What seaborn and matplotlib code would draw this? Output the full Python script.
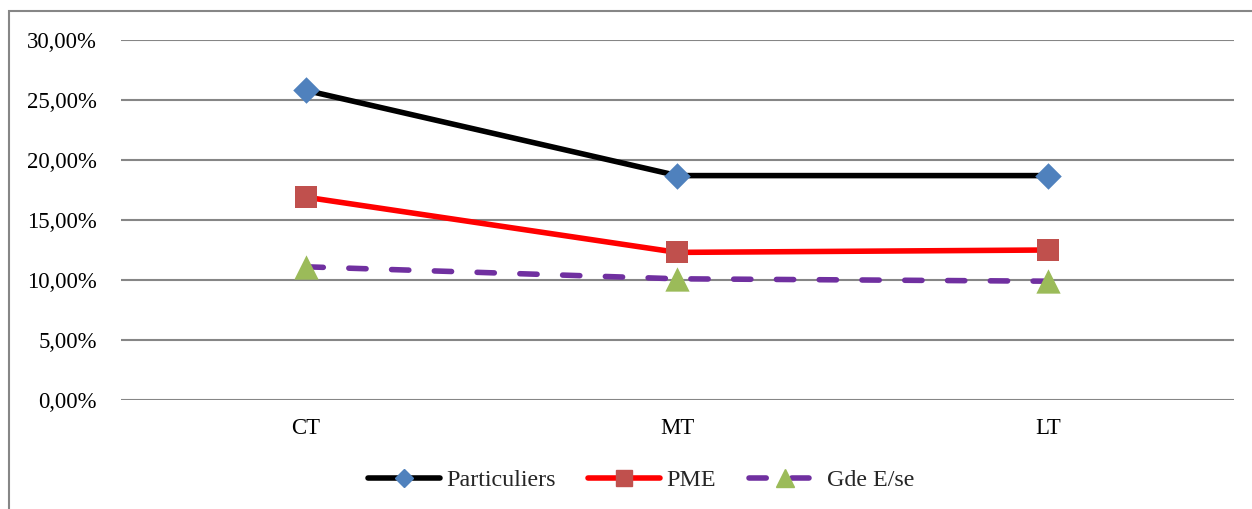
import numpy as np
import pandas as pd
import matplotlib
matplotlib.use('Agg')
import matplotlib.pyplot as plt
from matplotlib.ticker import FuncFormatter
from matplotlib.lines import Line2D
import seaborn as sns

# Données
horizons = ['CT', 'MT', 'LT']
particuliers = [0.258, 0.187, 0.187]
pme = [0.169, 0.123, 0.125]
gde_ese = [0.111, 0.101, 0.099]

series_names = ['Particuliers', 'PME', 'Gde E/se']

sns.set_theme(style='white')
plt.rcParams['font.family'] = ['Liberation Serif', 'DejaVu Serif']

df = pd.DataFrame({
    'horizon': horizons * 3,
    'taux': particuliers + pme + gde_ese,
    'serie': [series_names[0]] * 3 + [series_names[1]] * 3 + [series_names[2]] * 3,
})

fig = plt.figure(figsize=(12.52, 5.09), dpi=100)
ax = fig.add_axes([120.5 / 1252, 1 - 400 / 509, (1234 - 120.5) / 1252, 360 / 509])

line_colors = {'Particuliers': 'black', 'PME': '#FF0000', 'Gde E/se': '#7030A0'}
marker_styles = {'Particuliers': ('D', '#4F81BD', 13.5),
                 'PME': ('s', '#C0504D', 15.5),
                 'Gde E/se': ('^', '#9BBB59', 17.5)}
lw = 4.0
dash_gde = (3.1, 4.6)

# lignes via seaborn
sns.lineplot(data=df, x='horizon', y='taux', hue='serie', palette=line_colors,
             style='serie', dashes={'Particuliers': '', 'PME': '', 'Gde E/se': dash_gde},
             linewidth=lw, legend=False, ax=ax, sort=False)
for ln in ax.get_lines():
    ln.set_solid_capstyle('round')
    ln.set_dash_capstyle('round')

# marqueurs
for name in series_names:
    m, c, s = marker_styles[name]
    sub = df[df['serie'] == name]
    sns.scatterplot(data=sub, x='horizon', y='taux', marker=m, color=c,
                    s=s ** 2, edgecolor=c, linewidth=0, ax=ax, zorder=5, legend=False)

ax.set_xlim(-0.5, 2.5)
ax.set_ylim(0, 0.30)
ax.set_yticks(np.arange(0, 0.301, 0.05))
ax.yaxis.set_major_formatter(FuncFormatter(lambda v, p: f"{v * 100:.2f}%".replace('.', ',')))
ax.grid(axis='y', color='#868686', linewidth=1.5)
ax.grid(axis='x', visible=False)
for sp in ax.spines.values():
    sp.set_visible(False)
ax.tick_params(axis='both', length=0, labelsize=16.4, colors='black')
ax.tick_params(axis='y', pad=17)
ax.tick_params(axis='x', pad=13)
ax.set_xlabel('')
ax.set_ylabel('')

# légende en bas
handles = []
for name in series_names:
    m, c, s = marker_styles[name]
    ls = (0, dash_gde) if name == 'Gde E/se' else '-'
    handles.append(Line2D([0], [0], color=line_colors[name], lw=lw, linestyle=ls,
                          marker=m, markerfacecolor=c, markeredgecolor=c,
                          markersize=s * 0.7, solid_capstyle='round', dash_capstyle='round'))
fig.legend(handles, series_names, loc='center', bbox_to_anchor=(641 / 1252, 1 - 480 / 509),
           ncol=3, frameon=False, fontsize=17.3, handlelength=3.0, columnspacing=1.37,
           handletextpad=0.25)

# cadre du graphique
fig.add_artist(plt.Rectangle((9 / 1252, -0.05), 1.1, 1 - 11 / 509 + 0.05,
                             transform=fig.transFigure, fill=False,
                             edgecolor='#868686', linewidth=1.5))

fig.savefig('out.png', dpi=100, facecolor='white')
